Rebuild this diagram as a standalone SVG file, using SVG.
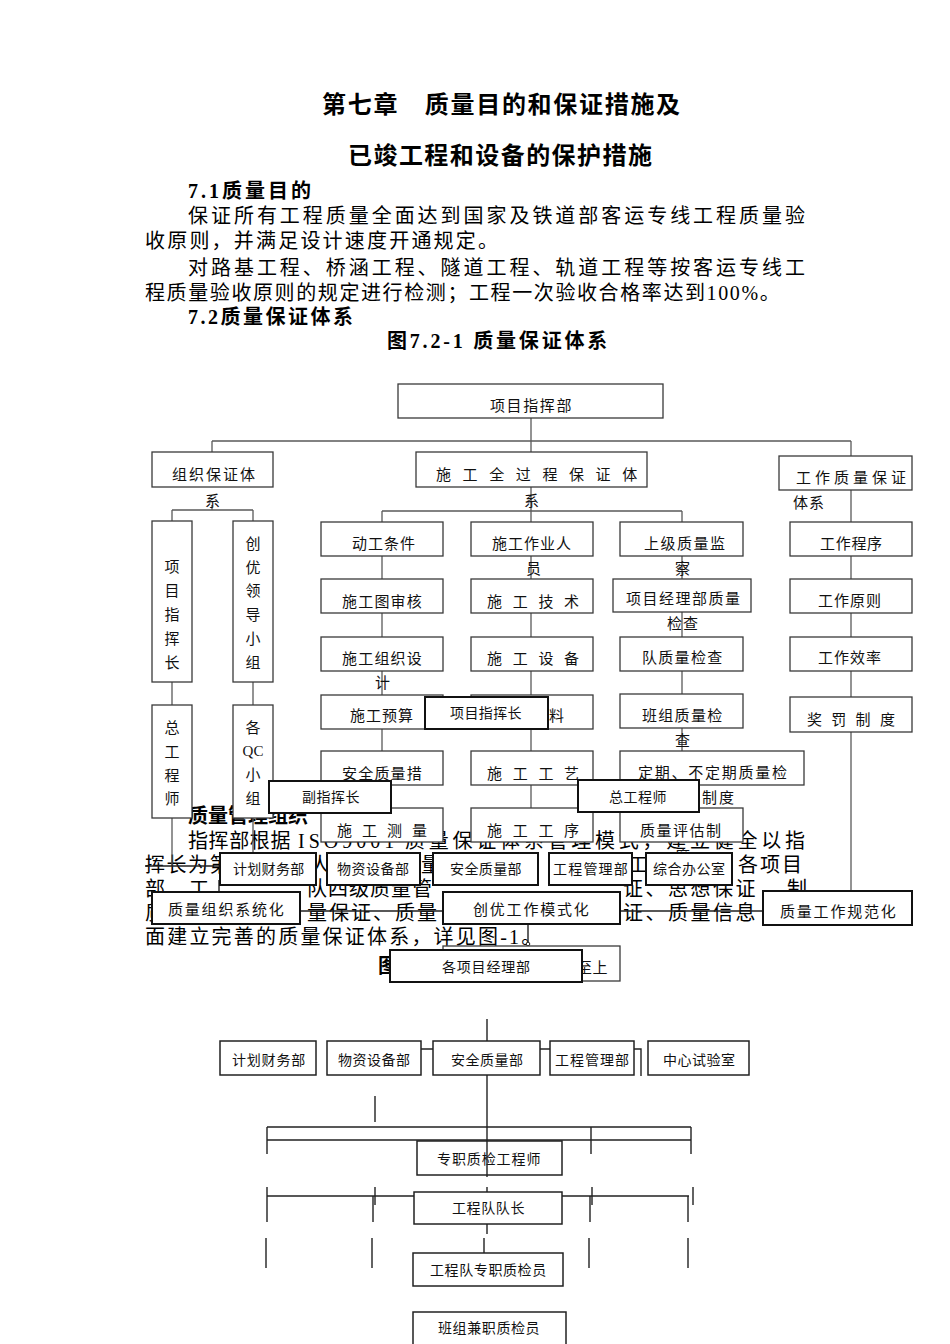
<svg xmlns="http://www.w3.org/2000/svg" width="950" height="1344" viewBox="0 0 950 1344">
<style>
.bg{fill:#fff}
.ti{font-family:"Liberation Serif","Noto Sans CJK SC",serif;font-size:24px;font-weight:bold;fill:#000}
.hd{font-family:"Liberation Serif","Noto Sans CJK SC",serif;font-size:20px;font-weight:bold;fill:#000}
.bd{font-family:"Liberation Serif","Noto Sans CJK SC",serif;font-size:20px;fill:#000}
.t15{font-family:"Noto Sans CJK SC",sans-serif;font-size:15px;fill:#111}
.t14{font-family:"Noto Sans CJK SC",sans-serif;font-size:14px;fill:#111}
.vc{text-anchor:middle}
.lat{font-family:"Liberation Serif",serif}
.bx{fill:#fff;stroke:#3a3a3a;stroke-width:1.3}
.ob{fill:#fff;stroke:#111;stroke-width:2}
.lb{fill:#fff;stroke:#222;stroke-width:1.5}
.cn{stroke:#5a5a5a;stroke-width:1.3;fill:none}
.cd{stroke:#222;stroke-width:1.4;fill:none}
</style>
<rect class="bg" x="0" y="0" width="950" height="1344"/>

<g id="page-text">
<text class="ti" x="322" y="113" letter-spacing="1.7">第七章　质量目的和保证措施及</text>
<text class="ti" x="348" y="164" letter-spacing="1.45">已竣工程和设备的保护措施</text>
<text class="hd" x="188" y="197.5" letter-spacing="3">7.1质量目的</text>
<text class="bd" x="188" y="222.5" letter-spacing="2.96">保证所有工程质量全面达到国家及铁道部客运专线工程质量验</text>
<text class="bd" x="145" y="247.5" letter-spacing="2.2">收原则，并满足设计速度开通规定。</text>
<text class="bd" x="188" y="274.5" letter-spacing="2.96">对路基工程、桥涵工程、隧道工程、轨道工程等按客运专线工</text>
<text class="bd" x="145" y="299.5" letter-spacing="1.6">程质量验收原则的规定进行检测；工程一次验收合格率达到100%。</text>
<text class="hd" x="188" y="323.5" letter-spacing="2.5">7.2质量保证体系</text>
<text class="hd" x="387" y="348" letter-spacing="2.8">图7.2-1 质量保证体系</text>
</g>

<g id="para2-text">
<text class="hd" x="188" y="823">质量管理组织</text>
<text class="bd" x="188" y="847.5" letter-spacing="0.6">指挥部根据</text>
<text class="bd" x="298" y="847.5" letter-spacing="4">ISO9001</text>
<text class="bd" x="405" y="847.5" letter-spacing="3.75">质量保证体系管理模式，建立健全以指</text>
<text class="bd" x="145" y="871.5" letter-spacing="1.5">挥长为第</text>
<text class="bd" x="310" y="871.5">人</text>
<text class="bd" x="421" y="871.5">量</text>
<text class="bd" x="628" y="871.5">工</text>
<text class="bd" x="738" y="871.5" letter-spacing="2">各项目</text>
<text class="bd" x="145" y="895.5" letter-spacing="2">部、工</text>
<text class="bd" x="307" y="895.5" letter-spacing="1">队四级质量管</text>
<text class="bd" x="623" y="895.5" letter-spacing="2.5">证、思想保证</text>
<text class="bd" x="787" y="895.5">制</text>
<text class="bd" x="145" y="919.5">质</text>
<text class="bd" x="307" y="919.5" letter-spacing="2">量保证、质量</text>
<text class="bd" x="623" y="919.5" letter-spacing="2.5">证、质量信息</text>
<text class="bd" x="145" y="943.5" letter-spacing="2.2">面建立完善的质量保证体系，详见图-1。</text>
<text class="hd" x="378" y="972.5">图</text>
</g>

<g id="connectors-top">
<path class="cn" d="M531 418V453M212 441H851M212 441V452M851 441V456M851 490V522"/>
<path class="cn" d="M212 505V510M172 510H253M172 510V521M253 510V521"/>
<path class="cn" d="M382 511H682M382 511V522M682 511V522M531 487V808"/>
<path class="cn" d="M172 682V705M253 682V705M172 818V866M253 818V852"/>
<path class="cn" d="M382 556V579M382 613V637M382 671V695M382 729V751M382 785V808"/>
<path class="cn" d="M682 556V579M682 612V637M682 671V694M682 728V751M682 785V808"/>
<path class="cn" d="M851 556V579M851 613V637M851 671V697M851 732V891"/>
<path class="cn" d="M593 785V808"/>
</g>

<g id="n-xmzhb"><rect class="bx" x="398" y="384" width="265" height="34"/><text class="t15" x="490" y="410.5" letter-spacing="1.6">项目指挥部</text></g>
<g id="n-zzbz"><rect class="bx" x="152" y="452" width="121" height="35"/><text class="t15" x="172" y="479.5" letter-spacing="2">组织保证体</text><text class="t15" x="205" y="505.5">系</text></g>
<g id="n-sgqgc"><rect class="bx" x="416" y="452" width="231" height="35"/><text class="t15" x="436" y="479.5" letter-spacing="11.6">施工全过程保证体</text><text class="t15" x="524" y="505.5">系</text></g>
<g id="n-gzzl"><rect class="bx" x="779" y="456" width="133" height="34"/><text class="t15" x="796" y="482.5" letter-spacing="4">工作质量保证</text><text class="t15" x="793" y="507.5" letter-spacing="1">体系</text></g>

<g id="n-xmzhz"><rect class="bx" x="152" y="521" width="40" height="161"/>
<text class="t15 vc" x="172" y="571.5">项</text><text class="t15 vc" x="172" y="595.5">目</text><text class="t15 vc" x="172" y="619.5">指</text><text class="t15 vc" x="172" y="643.5">挥</text><text class="t15 vc" x="172" y="667.5">长</text></g>
<g id="n-cyld"><rect class="bx" x="233" y="521" width="40" height="161"/>
<text class="t15 vc" x="253" y="548.5">创</text><text class="t15 vc" x="253" y="572.5">优</text><text class="t15 vc" x="253" y="595.5">领</text><text class="t15 vc" x="253" y="619.5">导</text><text class="t15 vc" x="253" y="643.5">小</text><text class="t15 vc" x="253" y="667.5">组</text></g>
<g id="n-zgcs"><rect class="bx" x="152" y="705" width="40" height="113"/>
<text class="t15 vc" x="172" y="732.5">总</text><text class="t15 vc" x="172" y="756.5">工</text><text class="t15 vc" x="172" y="780.5">程</text><text class="t15 vc" x="172" y="803.5">师</text></g>
<g id="n-gqc"><rect class="bx" x="233" y="705" width="40" height="113"/>
<text class="t15 vc" x="253" y="732.5">各</text><text class="t15 vc lat" x="253" y="755.5">QC</text><text class="t15 vc" x="253" y="779.5">小</text><text class="t15 vc" x="253" y="803.5">组</text></g>

<g id="n-dgtj"><rect class="bx" x="321" y="522" width="122" height="34"/><text class="t15" x="352" y="548.5" letter-spacing="1">动工条件</text></g>
<g id="n-sgtsh"><rect class="bx" x="321" y="579" width="122" height="34"/><text class="t15" x="342" y="606.5" letter-spacing="1.2">施工图审核</text></g>
<g id="n-sgzzsj"><rect class="bx" x="321" y="637" width="122" height="34"/><text class="t15" x="342" y="663.5" letter-spacing="1.2">施工组织设</text><text class="t15" x="375" y="687.5">计</text></g>
<g id="n-sgys"><rect class="bx" x="321" y="695" width="122" height="34"/><text class="t15" x="350" y="720.5" letter-spacing="1">施工预算</text></g>
<g id="n-aqzlcs"><rect class="bx" x="321" y="751" width="122" height="34"/><text class="t15" x="342" y="778.5" letter-spacing="1.2">安全质量措</text><text class="t15" x="375" y="802.5">施</text></g>
<g id="n-sgcl"><rect class="bx" x="321" y="808" width="122" height="34"/><text class="t15" x="337" y="835.5" letter-spacing="10">施工测量</text></g>

<g id="n-sgzyry"><rect class="bx" x="471" y="522" width="122" height="34"/><text class="t15" x="492" y="548.5" letter-spacing="1">施工作业人</text><text class="t15" x="526" y="573.5">员</text></g>
<g id="n-sgjs"><rect class="bx" x="471" y="579" width="122" height="34"/><text class="t15" x="487" y="606.5" letter-spacing="10.7">施工技术</text></g>
<g id="n-sgsb"><rect class="bx" x="471" y="637" width="122" height="34"/><text class="t15" x="487" y="663.5" letter-spacing="10.7">施工设备</text></g>
<g id="n-sgclb"><rect class="bx" x="471" y="695" width="122" height="34"/><text class="t15" x="489" y="720.5" letter-spacing="5">施工材料</text></g>
<g id="n-sggy"><rect class="bx" x="471" y="751" width="122" height="34"/><text class="t15" x="487" y="778.5" letter-spacing="10.7">施工工艺</text></g>
<g id="n-sggx"><rect class="bx" x="471" y="808" width="122" height="34"/><text class="t15" x="487" y="835.5" letter-spacing="10.7">施工工序</text></g>

<g id="n-sjzljc"><rect class="bx" x="620" y="522" width="123" height="34"/><text class="t15" x="644" y="548.5" letter-spacing="1.5">上级质量监</text><text class="t15" x="675" y="573.5">察</text></g>
<g id="n-xmjlb"><rect class="bx" x="613" y="579" width="138" height="33"/><text class="t15" x="626" y="603.5" letter-spacing="1.5">项目经理部质量</text><text class="t15" x="667" y="628.5" letter-spacing="1">检查</text></g>
<g id="n-dzljc"><rect class="bx" x="620" y="637" width="123" height="34"/><text class="t15" x="642" y="662.5" letter-spacing="1.3">队质量检查</text></g>
<g id="n-bzzljc"><rect class="bx" x="620" y="694" width="123" height="34"/><text class="t15" x="642" y="720.5" letter-spacing="1.3">班组质量检</text><text class="t15" x="675" y="745.5">查</text></g>
<g id="n-dqjc"><rect class="bx" x="620" y="751" width="184" height="34"/><text class="t15" x="638" y="777.5" letter-spacing="1.75">定期、不定期质量检</text><text class="t15" x="685" y="802.5" letter-spacing="2">查制度</text></g>
<g id="n-zlpg"><rect class="bx" x="620" y="808" width="123" height="34"/><text class="t15" x="640" y="835.5" letter-spacing="1.5">质量评估制</text><text class="t15" x="675" y="860.5">度</text></g>

<g id="n-gzcx"><rect class="bx" x="790" y="522" width="122" height="34"/><text class="t15" x="820" y="548.5" letter-spacing="0.7">工作程序</text></g>
<g id="n-gzyz"><rect class="bx" x="790" y="579" width="122" height="34"/><text class="t15" x="818" y="605.5" letter-spacing="1">工作原则</text></g>
<g id="n-gzxl"><rect class="bx" x="790" y="637" width="122" height="34"/><text class="t15" x="818" y="662.5" letter-spacing="1">工作效率</text></g>
<g id="n-jfzd"><rect class="bx" x="790" y="697" width="122" height="35"/><text class="t15" x="807" y="724.5" letter-spacing="9.3">奖罚制度</text></g>

<g id="connectors-overlay">
<path class="cd" d="M145 866H220M219 880V892M300 911H443M620 911H763M528 924V943"/>
<circle cx="528" cy="944" r="1.8" fill="#fff" stroke="#222" stroke-width="1"/>
</g>

<g id="o-xmzhz"><rect class="ob" x="425" y="697" width="123" height="32"/><text class="t14" x="450" y="718" letter-spacing="0.4">项目指挥长</text></g>
<g id="o-fzhz"><rect class="ob" x="269" y="781" width="122" height="32"/><text class="t14" x="302" y="802" letter-spacing="0.5">副指挥长</text></g>
<g id="o-zgcs"><rect class="ob" x="578" y="780" width="121" height="32"/><text class="t14" x="609" y="801.5" letter-spacing="0.5">总工程师</text></g>
<g id="o-jhcw"><rect class="ob" x="220" y="853" width="96" height="32"/><text class="t14" x="233" y="874" letter-spacing="0.3">计划财务部</text></g>
<g id="o-wzsb"><rect class="ob" x="327" y="853" width="93" height="32"/><text class="t14" x="337" y="874" letter-spacing="0.5">物资设备部</text></g>
<g id="o-aqzl"><rect class="ob" x="433" y="853" width="105" height="32"/><text class="t14" x="450" y="874" letter-spacing="0.4">安全质量部</text></g>
<g id="o-gcgl"><rect class="ob" x="549" y="853" width="83" height="32"/><text class="t14" x="553" y="874" letter-spacing="1.2">工程管理部</text></g>
<g id="o-zhbg"><rect class="ob" x="646" y="853" width="86" height="32"/><text class="t14" x="653" y="874" letter-spacing="0.5">综合办公室</text></g>
<g id="o-zlzz"><rect class="ob" x="152" y="892" width="148" height="32"/><text class="t15" x="168" y="915" letter-spacing="1.8">质量组织系统化</text></g>
<g id="o-cygz"><rect class="ob" x="443" y="892" width="177" height="32"/><text class="t15" x="473" y="915" letter-spacing="1.8">创优工作模式化</text></g>
<g id="o-zlgz"><rect class="ob" x="763" y="891" width="149" height="34"/><text class="t15" x="780" y="917" letter-spacing="1.8">质量工作规范化</text></g>
<g id="o-zs"><rect class="bx" x="443" y="946" width="177" height="35"/><text class="t15" x="577" y="973" letter-spacing="0.5">至上</text></g>
<g id="o-gxmjlb"><rect class="ob" x="390" y="950" width="192" height="32"/><text class="t14" x="442" y="972" letter-spacing="0.8">各项目经理部</text></g>

<g id="connectors-lower">
<path class="cd" d="M487 1019V1041M421 1049H433M540 1049H550M634 1049H641V1076M375 1096V1122"/>
<path class="cd" d="M267 1127H691M267 1140H691M267 1127V1154M591 1127V1154M691 1127V1154"/>
<path class="cd" d="M267 1187V1222M375 1187V1205M373 1196V1222M487 1187V1192M592 1187V1205M590 1196V1222M693 1187V1205M688 1196V1222M267 1196H689"/>
<path class="cd" d="M487 1224V1234M484 1238V1253M266 1238V1268M372 1238V1268M589 1238V1268M688 1238V1268"/>
</g>

<g id="l-jhcw"><rect class="lb" x="220" y="1041" width="96" height="34"/><text class="t14" x="232" y="1065" letter-spacing="0.8">计划财务部</text></g>
<g id="l-wzsb"><rect class="lb" x="327" y="1041" width="94" height="34"/><text class="t14" x="338" y="1065" letter-spacing="0.5">物资设备部</text></g>
<g id="l-aqzl"><rect class="lb" x="433" y="1041" width="107" height="34"/><text class="t14" x="451" y="1065" letter-spacing="0.5">安全质量部</text></g>
<g id="l-gcgl"><rect class="lb" x="550" y="1041" width="84" height="34"/><text class="t14" x="555" y="1065" letter-spacing="1">工程管理部</text></g>
<g id="l-zxsy"><rect class="lb" x="648" y="1041" width="101" height="34"/><text class="t14" x="663" y="1065" letter-spacing="0.5">中心试验室</text></g>
<g id="l-zzzj"><rect class="lb" x="417" y="1141" width="145" height="34"/><text class="t14" x="437" y="1164" letter-spacing="0.9">专职质检工程师</text></g>
<path class="cd" d="M487 1075V1177"/>
<g id="l-gcdz"><rect class="lb" x="414" y="1192" width="148" height="32"/><text class="t14" x="452" y="1213" letter-spacing="0.6">工程队队长</text></g>
<g id="l-gcdzj"><rect class="lb" x="413" y="1253" width="150" height="33"/><text class="t14" x="430" y="1275" letter-spacing="0.6">工程队专职质检员</text></g>
<g id="l-bzjz"><rect class="lb" x="413" y="1312" width="153" height="40"/><text class="t14" x="438" y="1333" letter-spacing="0.6">班组兼职质检员</text></g>
</svg>
